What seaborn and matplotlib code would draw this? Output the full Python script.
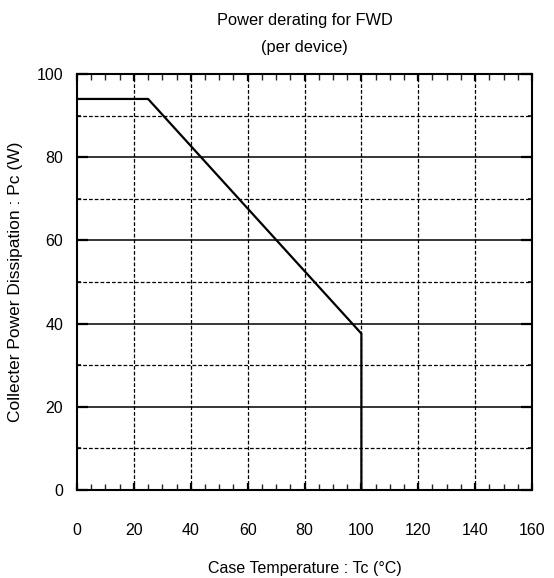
import matplotlib
matplotlib.use("Agg")
import matplotlib.pyplot as plt
import seaborn as sns
import pandas as pd
import numpy as np

# Data
case_temp = [0, 25, 100, 100]
power = [94, 94, 37.6, 0]
x_ticks = [0, 20, 40, 60, 80, 100, 120, 140, 160]
y_ticks = [0, 20, 40, 60, 80, 100]
title = "Power derating for FWD\n(per device)"
x_label = "Case Temperature : Tc (°C)"
y_label = "Collecter Power Dissipation : Pc (W)"

sns.set_theme(style="white")
plt.rcParams['font.family'] = ['Liberation Sans', 'DejaVu Sans']

fig = plt.figure(figsize=(5.54, 5.78), dpi=100)
ax = fig.add_axes([77/554, 88/578, 455/554, 416/578])

df = pd.DataFrame({"Tc": case_temp, "Pc": power})

# grid
for y in [20, 40, 60, 80]:
    ax.axhline(y, color="black", lw=1.1, zorder=1)
for y in [10, 30, 50, 70, 90]:
    ax.axhline(y, color="black", lw=0.9, ls=(0, (3, 1.6)), zorder=1)
for x in [20, 40, 60, 80, 100, 120, 140]:
    ax.axvline(x, color="black", lw=0.9, ls=(0, (3, 1.6)), zorder=1)

sns.lineplot(data=df, x="Tc", y="Pc", sort=False, estimator=None,
             color="black", lw=1.6, ax=ax, zorder=3)

ax.set_xlim(0, 160)
ax.set_ylim(0, 100)
ax.set_xticks(x_ticks)
ax.set_xticks(np.arange(0, 161, 5), minor=True)
ax.set_yticks(y_ticks)
ax.set_yticks(np.arange(0, 101, 10), minor=True)
ax.set_xticklabels([str(v) for v in x_ticks])
ax.set_yticklabels([str(v) for v in y_ticks])

ax.tick_params(axis="x", which="major", direction="in", length=5, width=1.6,
               top=True, bottom=True, pad=24, labelsize=11.5, colors="black")
ax.tick_params(axis="x", which="minor", direction="in", length=4, width=1.0,
               top=True, bottom=True)
ax.tick_params(axis="y", which="major", direction="in", length=8, width=1.6,
               left=True, right=True, pad=10, labelsize=11.5, colors="black")
ax.tick_params(axis="y", which="minor", direction="in", length=3, width=1.3,
               left=True, right=True)

for s in ax.spines.values():
    s.set_color("black")
    s.set_linewidth(1.5)

ax.set_title(title, fontsize=11.8, color="black", pad=16, linespacing=1.95)
ax.set_xlabel(x_label, fontsize=11.5, color="black", labelpad=16)
ax.set_ylabel(y_label, fontsize=12.5, color="black", labelpad=10)

fig.savefig("out.png", dpi=100)
